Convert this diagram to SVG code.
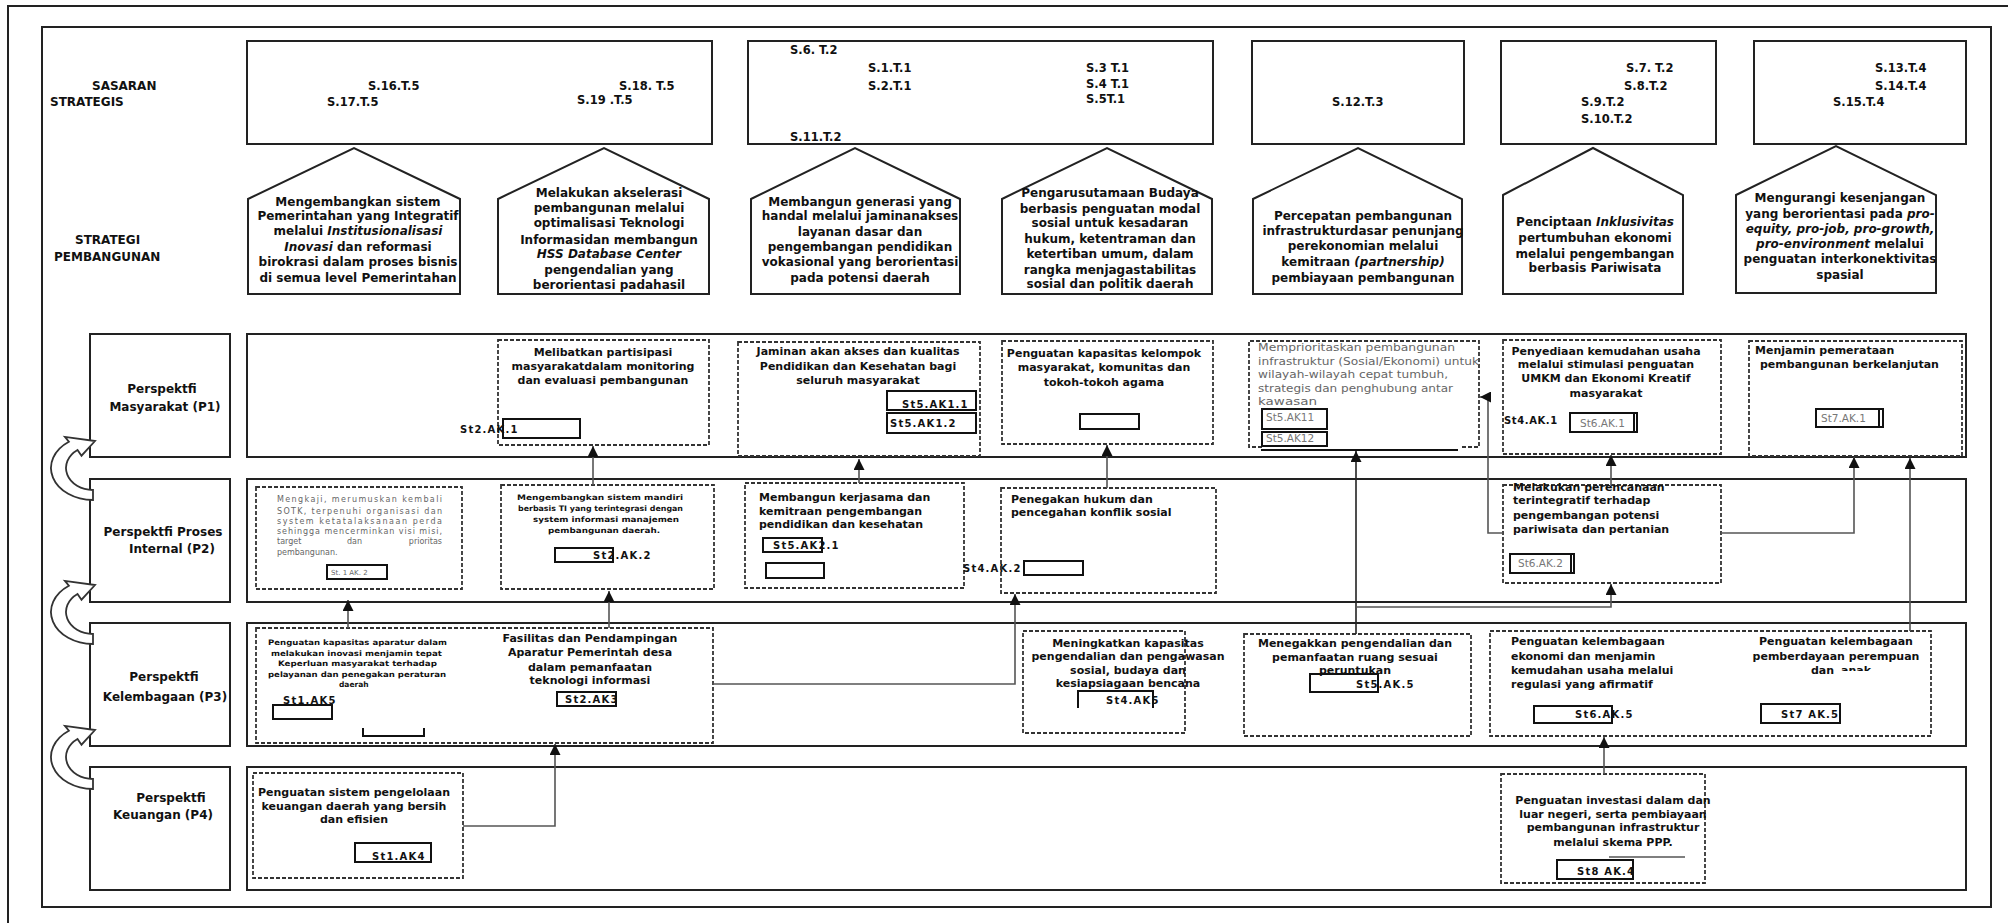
<svg xmlns="http://www.w3.org/2000/svg" width="2008" height="923" viewBox="0 0 2008 923">
<style>
.f{fill:none;stroke:#222;stroke-width:2}
.s{fill:#fff;stroke:#222;stroke-width:2}
.d{fill:none;stroke:#333;stroke-width:1.8;stroke-dasharray:4 2}
.c{fill:none;stroke:#555;stroke-width:1.6}
.k{fill:none;stroke:#111;stroke-width:2}
.ca{fill:#fff;stroke:#333;stroke-width:1.8}
text{font-family:"DejaVu Sans","Liberation Sans",sans-serif;fill:#111}
.h{font-size:12px;font-weight:bold}
.p{font-size:12px;font-weight:bold;text-anchor:middle}
.code{font-size:11.5px;font-weight:bold}
.bx{font-size:11px;font-weight:bold}
.m{text-anchor:middle}
.sm{font-size:10px;font-weight:bold;letter-spacing:1.2px}
.g{font-size:10.5px;fill:#777}
.tiny{font-size:7.5px;font-weight:bold}
.gr{font-size:8px;fill:#666}
.a4{font-size:10.5px;fill:#666}
.i{font-style:italic}
</style>
<defs>
<marker id="ah" markerWidth="11" markerHeight="11" refX="11" refY="5.5" orient="auto" markerUnits="userSpaceOnUse"><path d="M0,0 L11,5.5 L0,11 z" fill="#111"/></marker>
<path id="curv" d="M0,32 A42,32 0 0 1 -24.1,-26.2 L-28.1,-31.1 L2,-27 L-11.5,-12.3 L-15.5,-18 A27,22 0 0 0 0,22 Z"/>
<clipPath id="cut"><rect x="1840" y="660" width="60" height="11"/></clipPath>
</defs>
<rect x="0" y="0" width="2008" height="923" fill="#fff"/>

<g id="frame">
<path class="f" d="M8,923 V6 H2008"/>
<rect class="f" x="42" y="27" width="1949" height="880"/>
<text class="h" x="92" y="90">SASARAN</text>
<text class="h" x="50" y="106">STRATEGIS</text>
<text class="h" x="75" y="244">STRATEGI</text>
<text class="h" x="54" y="261">PEMBANGUNAN</text>
</g>

<g id="sasaran-1"><rect class="f" x="247" y="41" width="465" height="103"/>
<text class="code" x="368" y="90">S.16.T.5</text><text class="code" x="327" y="106">S.17.T.5</text>
<text class="code" x="619" y="90">S.18. T.5</text><text class="code" x="577" y="104">S.19 .T.5</text></g>
<g id="sasaran-2"><rect class="f" x="748" y="41" width="465" height="103"/>
<text class="code" x="790" y="54">S.6. T.2</text><text class="code" x="868" y="72">S.1.T.1</text>
<text class="code" x="868" y="90">S.2.T.1</text><text class="code" x="790" y="141">S.11.T.2</text>
<text class="code" x="1086" y="72">S.3 T.1</text><text class="code" x="1086" y="88">S.4 T.1</text>
<text class="code" x="1086" y="103">S.5T.1</text></g>
<g id="sasaran-3"><rect class="f" x="1252" y="41" width="212" height="103"/>
<text class="code" x="1332" y="106">S.12.T.3</text></g>
<g id="sasaran-4"><rect class="f" x="1501" y="41" width="215" height="103"/>
<text class="code" x="1626" y="72">S.7. T.2</text><text class="code" x="1624" y="90">S.8.T.2</text>
<text class="code" x="1581" y="106">S.9.T.2</text><text class="code" x="1581" y="123">S.10.T.2</text></g>
<g id="sasaran-5"><rect class="f" x="1754" y="41" width="212" height="103"/>
<text class="code" x="1875" y="72">S.13.T.4</text><text class="code" x="1875" y="90">S.14.T.4</text>
<text class="code" x="1833" y="106">S.15.T.4</text></g>

<g id="strategi-1"><polygon class="f" points="248,199 354,148 460,199 460,294 248,294"/>
<text class="p" x="358" y="206">Mengembangkan sistem</text>
<text class="p" x="358" y="220">Pemerintahan yang Integratif</text>
<text class="p" x="358" y="235">melalui <tspan class="i">Institusionalisasi</tspan></text>
<text class="p" x="358" y="251"><tspan class="i">Inovasi</tspan> dan reformasi</text>
<text class="p" x="358" y="266">birokrasi dalam proses bisnis</text>
<text class="p" x="358" y="282">di semua level Pemerintahan</text></g>
<g id="strategi-2"><polygon class="f" points="498,199 604,148 709,199 709,294 498,294"/>
<text class="p" x="609" y="197">Melakukan akselerasi</text>
<text class="p" x="609" y="212">pembangunan  melalui</text>
<text class="p" x="609" y="227">optimalisasi Teknologi</text>
<text class="p" x="609" y="244">Informasidan  membangun</text>
<text class="p i" x="609" y="258">HSS Database Center</text>
<text class="p" x="609" y="274">pengendalian yang</text>
<text class="p" x="609" y="289">berorientasi padahasil</text></g>
<g id="strategi-3"><polygon class="f" points="751,199 855,148 960,199 960,294 751,294"/>
<text class="p" x="860" y="206">Membangun generasi yang</text>
<text class="p" x="860" y="220">handal melalui jaminanakses</text>
<text class="p" x="860" y="236">layanan dasar dan</text>
<text class="p" x="860" y="251">pengembangan pendidikan</text>
<text class="p" x="860" y="266">vokasional yang berorientasi</text>
<text class="p" x="860" y="282">pada potensi daerah</text></g>
<g id="strategi-4"><polygon class="f" points="1002,199 1107,148 1212,199 1212,294 1002,294"/>
<text class="p" x="1110" y="197">Pengarusutamaan Budaya</text>
<text class="p" x="1110" y="213">berbasis penguatan modal</text>
<text class="p" x="1110" y="227">sosial untuk kesadaran</text>
<text class="p" x="1110" y="243">hukum, ketentraman dan</text>
<text class="p" x="1110" y="258">ketertiban umum, dalam</text>
<text class="p" x="1110" y="274">rangka menjagastabilitas</text>
<text class="p" x="1110" y="288">sosial dan politik daerah</text></g>
<g id="strategi-5"><polygon class="f" points="1253,199 1358,148 1462,199 1462,294 1253,294"/>
<text class="p" x="1363" y="220">Percepatan pembangunan</text>
<text class="p" x="1363" y="235">infrastrukturdasar penunjang</text>
<text class="p" x="1363" y="250">perekonomian melalui</text>
<text class="p" x="1363" y="266">kemitraan <tspan class="i">(partnership)</tspan></text>
<text class="p" x="1363" y="282">pembiayaan pembangunan</text></g>
<g id="strategi-6"><polygon class="f" points="1503,195 1593,148 1683,195 1683,294 1503,294"/>
<text class="p" x="1595" y="226">Penciptaan <tspan class="i">Inklusivitas</tspan></text>
<text class="p" x="1595" y="242">pertumbuhan ekonomi</text>
<text class="p" x="1595" y="258">melalui pengembangan</text>
<text class="p" x="1595" y="272">berbasis Pariwisata</text></g>
<g id="strategi-7"><polygon class="f" points="1736,195 1836,146 1936,195 1936,293 1736,293"/>
<text class="p" x="1840" y="202">Mengurangi kesenjangan</text>
<text class="p" x="1840" y="218">yang berorientasi pada <tspan class="i">pro-</tspan></text>
<text class="p i" x="1840" y="233">equity, pro-job, pro-growth,</text>
<text class="p" x="1840" y="248"><tspan class="i">pro-environment</tspan> melalui</text>
<text class="p" x="1840" y="263">penguatan interkonektivitas</text>
<text class="p" x="1840" y="279">spasial</text></g>

<g id="perspektif-p1"><rect class="f" x="90" y="334" width="140" height="123"/><rect class="f" x="247" y="334" width="1719" height="123"/>
<text class="h m" x="162" y="393">Perspektfi</text><text class="h m" x="165" y="411">Masyarakat (P1)</text></g>
<g id="perspektif-p2"><rect class="f" x="90" y="479" width="140" height="123"/><rect class="f" x="247" y="479" width="1719" height="123"/>
<text class="h m" x="163" y="536">Perspektfi Proses</text><text class="h m" x="172" y="553">Internal (P2)</text></g>
<g id="perspektif-p3"><rect class="f" x="90" y="623" width="140" height="123"/><rect class="f" x="247" y="623" width="1719" height="123"/>
<text class="h m" x="164" y="681">Perspektfi</text><text class="h m" x="165" y="701">Kelembagaan (P3)</text></g>
<g id="perspektif-p4"><rect class="f" x="90" y="767" width="140" height="123"/><rect class="f" x="247" y="767" width="1719" height="123"/>
<text class="h m" x="171" y="802">Perspektfi</text><text class="h m" x="163" y="819">Keuangan (P4)</text></g>

<g id="cycle-arrows">
<use href="#curv" class="ca" transform="translate(93,468)"/>
<use href="#curv" class="ca" transform="translate(93,612)"/>
<use href="#curv" class="ca" transform="translate(93,757)"/>
</g>

<g id="p1-melibatkan"><rect class="d" x="498" y="340" width="211" height="105"/>
<text class="bx m" x="603" y="356">Melibatkan partisipasi</text>
<text class="bx m" x="603" y="370">masyarakatdalam monitoring</text>
<text class="bx m" x="603" y="384">dan evaluasi pembangunan</text>
<rect class="k" x="503" y="419" width="77" height="19"/>
<text class="sm" x="460" y="433">St2.AK.1</text></g>

<g id="p1-jaminan"><rect class="d" x="738" y="342" width="242" height="114"/>
<text class="bx m" x="858" y="355">Jaminan akan akses dan kualitas</text>
<text class="bx m" x="858" y="370">Pendidikan dan Kesehatan bagi</text>
<text class="bx m" x="858" y="384">seluruh masyarakat</text>
<rect class="k" x="887" y="391" width="89" height="19"/>
<rect class="k" x="887" y="413" width="89" height="20"/>
<text class="sm" x="902" y="408">St5.AK1.1</text>
<text class="sm" x="890" y="427">St5.AK1.2</text></g>

<g id="p1-penguatan-kapasitas"><rect class="d" x="1002" y="341" width="211" height="103"/>
<text class="bx m" x="1104" y="357">Penguatan kapasitas kelompok</text>
<text class="bx m" x="1104" y="371">masyarakat, komunitas dan</text>
<text class="bx m" x="1104" y="386">tokoh-tokoh agama</text>
<rect class="k" x="1080" y="414" width="59" height="15"/></g>

<g id="p1-memprioritaskan"><path class="d" d="M1262,447 H1249 V341 H1479 V447 H1461"/>
<text class="a4" x="1258" y="351" textLength="197" lengthAdjust="spacingAndGlyphs">Memprioritaskan pembangunan</text>
<text class="a4" x="1258" y="365" textLength="221" lengthAdjust="spacingAndGlyphs">infrastruktur (Sosial/Ekonomi) untuk</text>
<text class="a4" x="1258" y="378" textLength="190" lengthAdjust="spacingAndGlyphs">wilayah-wilayah cepat tumbuh,</text>
<text class="a4" x="1258" y="392" textLength="195" lengthAdjust="spacingAndGlyphs">strategis dan penghubung antar</text>
<text class="a4" x="1258" y="405" textLength="59" lengthAdjust="spacingAndGlyphs">kawasan</text>
<rect class="k" x="1262" y="409" width="65" height="20"/>
<rect class="k" x="1262" y="432" width="65" height="14"/>
<text class="g" x="1266" y="421">St5.AK11</text>
<text class="g" x="1266" y="442">St5.AK12</text>
<path class="k" d="M1261,450 H1458"/></g>

<g id="p1-penyediaan"><rect class="d" x="1503" y="340" width="218" height="114"/>
<text class="bx m" x="1606" y="355">Penyediaan kemudahan usaha</text>
<text class="bx m" x="1606" y="368">melalui stimulasi penguatan</text>
<text class="bx m" x="1606" y="382">UMKM dan Ekonomi Kreatif</text>
<text class="bx m" x="1606" y="397">masyarakat</text>
<text class="sm" x="1504" y="424" style="letter-spacing:0.6px">St4.AK.1</text>
<rect class="k" x="1570" y="413" width="67" height="19"/><path class="k" d="M1634,413 V432"/>
<text class="g" x="1580" y="427">St6.AK.1</text></g>

<g id="p1-menjamin"><rect class="d" x="1749" y="341" width="213" height="115"/>
<text class="bx" x="1755" y="354">Menjamin pemerataan</text>
<text class="bx" x="1760" y="368">pembangunan berkelanjutan</text>
<rect class="k" x="1816" y="409" width="67" height="18"/><path class="k" d="M1879,409 V427"/>
<text class="g" x="1821" y="422">St7.AK.1</text></g>

<g id="p2-mengkaji"><rect class="d" x="256" y="487" width="206" height="102"/>
<text class="gr" x="277" y="502" textLength="165" lengthAdjust="spacing">Mengkaji, merumuskan kembali</text>
<text class="gr" x="277" y="514" textLength="165" lengthAdjust="spacing">SOTK, terpenuhi organisasi dan</text>
<text class="gr" x="277" y="524" textLength="165" lengthAdjust="spacing">system ketatalaksanaan perda</text>
<text class="gr" x="277" y="534" textLength="165" lengthAdjust="spacing">sehingga mencerminkan visi misi,</text>
<text class="gr" x="277" y="544">target</text><text class="gr" x="347" y="544">dan</text><text class="gr" x="442" y="544" text-anchor="end">prioritas</text>
<text class="gr" x="277" y="555">pembangunan.</text>
<rect class="k" x="327" y="565" width="60" height="14"/>
<text class="gr" x="331" y="575" style="font-size:7px">St. 1 AK. 2</text></g>

<g id="p2-mengembangkan"><rect class="d" x="501" y="485" width="213" height="104"/>
<text class="tiny" x="517" y="500" textLength="166" lengthAdjust="spacingAndGlyphs">Mengembangkan sistem mandiri</text>
<text class="tiny" x="518" y="511" textLength="165" lengthAdjust="spacingAndGlyphs">berbasis TI yang terintegrasi dengan</text>
<text class="tiny" x="533" y="522" textLength="146" lengthAdjust="spacingAndGlyphs">system informasi manajemen</text>
<text class="tiny" x="548" y="533" textLength="112" lengthAdjust="spacingAndGlyphs">pembangunan daerah.</text>
<rect class="k" x="555" y="548" width="58" height="14"/>
<text class="sm" x="593" y="559">St2.AK.2</text></g>

<g id="p2-membangun"><rect class="d" x="745" y="483" width="219" height="105"/>
<text class="bx" x="759" y="501">Membangun kerjasama dan</text>
<text class="bx" x="759" y="515">kemitraan pengembangan</text>
<text class="bx" x="759" y="528">pendidikan dan kesehatan</text>
<rect class="k" x="763" y="538" width="59" height="14"/>
<text class="sm" x="773" y="549">St5.AK2.1</text>
<rect class="k" x="766" y="563" width="58" height="15"/>
<text class="sm" x="963" y="572">St4.AK.2</text>
<rect class="k" x="1024" y="561" width="59" height="14"/></g>

<g id="p2-penegakan"><rect class="d" x="1001" y="488" width="215" height="105"/>
<text class="bx" x="1011" y="503">Penegakan hukum dan</text>
<text class="bx" x="1011" y="516">pencegahan konflik sosial</text></g>

<g id="p2-perencanaan"><rect class="d" x="1503" y="485" width="218" height="98"/>
<text class="bx" x="1513" y="491">Melakukan perencanaan</text>
<text class="bx" x="1513" y="504">terintegratif terhadap</text>
<text class="bx" x="1513" y="519">pengembangan potensi</text>
<text class="bx" x="1513" y="533">pariwisata dan pertanian</text>
<rect class="k" x="1510" y="554" width="64" height="19"/><path class="k" d="M1571,554 V573"/>
<text class="g" x="1518" y="567">St6.AK.2</text></g>

<g id="p3-aparatur"><rect class="d" x="256" y="628" width="457" height="115"/>
<text class="tiny" x="268" y="645" textLength="179" lengthAdjust="spacingAndGlyphs">Penguatan kapasitas aparatur dalam</text>
<text class="tiny" x="271" y="656" textLength="171" lengthAdjust="spacingAndGlyphs">melakukan inovasi menjamin tepat</text>
<text class="tiny" x="278" y="666" textLength="159" lengthAdjust="spacingAndGlyphs">Keperluan masyarakat terhadap</text>
<text class="tiny" x="268" y="677" textLength="178" lengthAdjust="spacingAndGlyphs">pelayanan dan penegakan peraturan</text>
<text class="tiny" x="339" y="687">daerah</text>
<text class="sm" x="283" y="704">St1.AK5</text>
<rect class="k" x="273" y="705" width="59" height="14"/>
<path class="k" d="M363,728 V736 H424 V728"/>
<text class="bx m" x="590" y="642">Fasilitas dan Pendampingan</text>
<text class="bx m" x="590" y="656">Aparatur Pemerintah desa</text>
<text class="bx m" x="590" y="671">dalam pemanfaatan</text>
<text class="bx m" x="590" y="684">teknologi informasi</text>
<rect class="k" x="557" y="692" width="59" height="14"/>
<text class="sm" x="565" y="703">St2.AK3</text></g>

<g id="p3-pengendalian-sosial"><rect class="d" x="1023" y="631" width="162" height="102"/>
<text class="bx m" x="1128" y="647">Meningkatkan kapasitas</text>
<text class="bx m" x="1128" y="660">pengendalian dan pengawasan</text>
<text class="bx m" x="1128" y="674">sosial, budaya dan</text>
<text class="bx m" x="1128" y="687">kesiapsiagaan bencana</text>
<path class="k" d="M1078,708 V691 H1153 V708"/>
<text class="sm" x="1106" y="704">St4.AK5</text></g>

<g id="p3-ruang"><rect class="d" x="1244" y="634" width="227" height="102"/>
<text class="bx m" x="1355" y="647">Menegakkan pengendalian dan</text>
<text class="bx m" x="1355" y="661">pemanfaatan ruang sesuai</text>
<text class="bx m" x="1355" y="674">peruntukan</text>
<rect class="k" x="1310" y="674" width="68" height="18"/>
<text class="sm" x="1356" y="688">St5.AK.5</text></g>

<g id="p3-kelembagaan"><rect class="d" x="1490" y="631" width="441" height="105"/>
<text class="bx" x="1511" y="645">Penguatan kelembagaan</text>
<text class="bx" x="1511" y="660">ekonomi dan menjamin</text>
<text class="bx" x="1511" y="674">kemudahan usaha melalui</text>
<text class="bx" x="1511" y="688">regulasi yang afirmatif</text>
<rect class="k" x="1534" y="706" width="78" height="17"/>
<text class="sm" x="1575" y="718">St6.AK.5</text>
<text class="bx m" x="1836" y="645">Penguatan kelembagaan</text>
<text class="bx m" x="1836" y="660">pemberdayaan perempuan</text>
<text class="bx" x="1811" y="674">dan</text>
<text class="bx" x="1841" y="674" clip-path="url(#cut)">anak</text>
<rect class="k" x="1761" y="704" width="79" height="19"/>
<text class="sm" x="1781" y="718">St7 AK.5</text></g>

<g id="p4-keuangan"><rect class="d" x="253" y="773" width="210" height="105"/>
<text class="bx m" x="354" y="796">Penguatan sistem pengelolaan</text>
<text class="bx m" x="354" y="810">keuangan daerah yang bersih</text>
<text class="bx m" x="354" y="823">dan efisien</text>
<rect class="k" x="355" y="843" width="76" height="19"/>
<text class="sm" x="372" y="860">St1.AK4</text></g>

<g id="p4-investasi"><rect class="d" x="1501" y="774" width="204" height="109"/>
<text class="bx m" x="1613" y="804">Penguatan investasi dalam dan</text>
<text class="bx m" x="1613" y="818">luar negeri, serta pembiayaan</text>
<text class="bx m" x="1613" y="831">pembangunan infrastruktur</text>
<text class="bx m" x="1613" y="846">melalui skema PPP.</text>
<path class="c" d="M1609,857 H1685"/>
<rect class="k" x="1557" y="860" width="76" height="19"/>
<text class="sm" x="1577" y="875">St8 AK.4</text></g>

<g id="connectors">
<path class="c" d="M348,628 V600" marker-end="url(#ah)"/>
<path class="c" d="M593,485 V446" marker-end="url(#ah)"/>
<path class="c" d="M859,483 V459" marker-end="url(#ah)"/>
<path class="c" d="M609,628 V591" marker-end="url(#ah)"/>
<path class="c" d="M1107,488 V445" marker-end="url(#ah)"/>
<path class="c" d="M713,684 H1015 V594" marker-end="url(#ah)"/>
<path class="c" d="M1356,634 V451" marker-end="url(#ah)" style="stroke:#222"/>
<path class="c" d="M1503,533 H1488 V397 H1480" marker-end="url(#ah)"/>
<path class="c" d="M1611,485 V455" marker-end="url(#ah)"/>
<path class="c" d="M1721,533 H1854 V457" marker-end="url(#ah)"/>
<path class="c" d="M1910,631 V458" marker-end="url(#ah)"/>
<path class="c" d="M1356,607 H1611 V584" marker-end="url(#ah)"/>
<path class="c" d="M1604,774 V737" marker-end="url(#ah)"/>
<path class="c" d="M463,826 H555 V744" marker-end="url(#ah)"/>
</g>
</svg>
